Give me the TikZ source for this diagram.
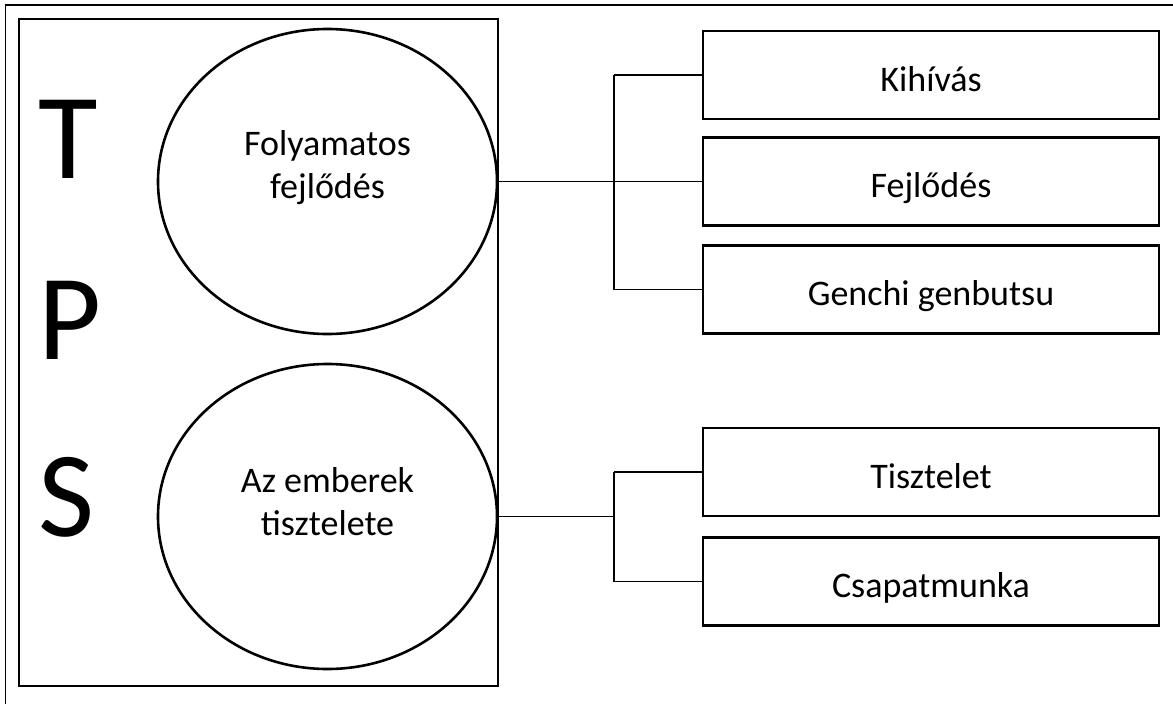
\documentclass[tikz,border=0pt]{standalone}
\usepackage{fontspec}
\setmainfont{Carlito}
\usetikzlibrary{shapes.geometric}
\begin{document}
\begin{tikzpicture}[x=1pt,y=-1pt,
  thin line/.style={line width=1.6pt},
  bracket/.style={line width=2.3pt},
  bigletter/.style={font=\fontsize{122}{140}\selectfont, inner sep=0pt, anchor=base west},
  oval/.style={draw, ellipse, line width=2.6pt, minimum width=339pt, minimum height=305pt, inner sep=0pt},
  ovaltext/.style={font=\fontsize{36}{43}\selectfont, inner sep=0pt, anchor=base},
  itembox/.style={draw, rectangle, line width=2.2pt, minimum width=456pt, minimum height=88pt,
    inner sep=0pt, font=\fontsize{36}{43}\selectfont, text height=32pt, text depth=0pt}]
  \useasboundingbox (0,0) rectangle (1173,704);

  % page frame and left panel
  \draw[thin line] (5.5,5) rectangle (1185,715);
  \node[draw, thin line, minimum width=479pt, minimum height=667pt, inner sep=0pt] (panel) at (258.5,352.5) {};

  % TPS letters
  \node[bigletter] (lt) at (38.5,178) {T};
  \node[bigletter] (lp) at (38.5,359) {P};
  \node[bigletter] (ls) at (38.5,536.5) {S};

  % the two principles
  \node[oval] (e1) at (327.5,181.5) {};
  \node[ovaltext] (e1a) at (327.5,155) {Folyamatos};
  \node[ovaltext] (e1b) at (327.5,198) {fejlődés};

  \node[oval] (e2) at (327.5,516.5) {};
  \node[ovaltext] (e2a) at (327.5,492) {Az emberek};
  \node[ovaltext] (e2b) at (327.5,535) {tisztelete};

  % elements
  \node[itembox] (f1) at (931,75) {Kihívás};
  \node[itembox] (f2) at (931,181.5) {Fejlődés};
  \node[itembox] (f3) at (931,289.5) {Genchi genbutsu};
  \node[itembox] (g1) at (931,472) {Tisztelet};
  \node[itembox] (g2) at (931,581.5) {Csapatmunka};

  % brackets
  \coordinate (bx) at (614,0);
  \draw[thin line] (e1.east) -- (f2.west);
  \draw[bracket] (f1.west -| bx) -- (f3.west -| bx);
  \draw[thin line] (f1.west -| bx) -- (f1.west);
  \draw[thin line] (f3.west -| bx) -- (f3.west);

  \draw[thin line] (e2.east) -- (e2.east -| bx);
  \draw[bracket] (g1.west -| bx) -- (g2.west -| bx);
  \draw[thin line] (g1.west -| bx) -- (g1.west);
  \draw[thin line] (g2.west -| bx) -- (g2.west);
\end{tikzpicture}
\end{document}
